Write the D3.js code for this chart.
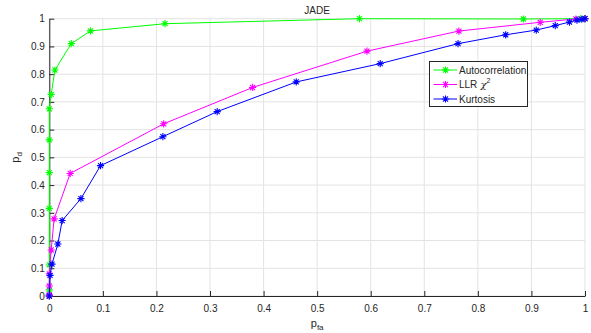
<!DOCTYPE html>
<html>
<head>
<meta charset="utf-8">
<script src="https://cdn.jsdelivr.net/npm/d3@7"></script>
<style>
  body { margin: 0; background: #fff; }
  text { font-family: "Liberation Sans", Arial, sans-serif; fill: #262626; }
</style>
</head>
<body>
<div id="chart"></div>
<script>
// ROC curves, JADE
const autoX = [0, 0, 0, 0, 0, 0, 0, 0.0035, 0.0105, 0.041, 0.077, 0.216, 0.579, 0.885, 0.992, 1];
const autoY = [0, 0.022, 0.112, 0.316, 0.445, 0.563, 0.675, 0.727, 0.815, 0.91, 0.956, 0.982, 1, 0.999, 1, 1];

const llrX = [0, 0, 0, 0, 0.0035, 0.009, 0.039, 0.2136, 0.3795, 0.593, 0.7646, 0.9164, 0.983, 1];
const llrY = [0, 0.004, 0.036, 0.08, 0.166, 0.278, 0.442, 0.621, 0.752, 0.883, 0.9555, 0.987, 0.999, 1];

const kurtX = [0, 0.0014, 0.005, 0.016, 0.024, 0.059, 0.0956, 0.212, 0.3134, 0.461, 0.6177, 0.763, 0.852, 0.909, 0.9445, 0.971, 0.985, 0.994, 1];
const kurtY = [0, 0.0745, 0.115, 0.1875, 0.272, 0.351, 0.47, 0.5745, 0.665, 0.772, 0.838, 0.91, 0.942, 0.959, 0.975, 0.988, 0.995, 0.998, 1];

const ticks = [0, 0.1, 0.2, 0.3, 0.4, 0.5, 0.6, 0.7, 0.8, 0.9, 1];

const series = [
  {name: 'Autocorrelation', color: '#00ff00', xs: autoX, ys: autoY},
  {name: 'LLR', color: '#ff00ff', xs: llrX, ys: llrY},
  {name: 'Kurtosis', color: '#0000ff', xs: kurtX, ys: kurtY}
];

const width = 591, height = 333;
const margin = {top: 18.7, right: 6, bottom: 37, left: 49.3};
const w = width - margin.left - margin.right;
const h = height - margin.top - margin.bottom;

const svg = d3.select('#chart').append('svg')
  .attr('width', width)
  .attr('height', height);

const g = svg.append('g')
  .attr('transform', 'translate(' + margin.left + ',' + margin.top + ')');

const x = d3.scaleLinear().domain([0, 1]).range([0, w]);
const y = d3.scaleLinear().domain([0, 1]).range([h, 0]);

// grid
g.append('g').selectAll('line').data(ticks).enter().append('line')
  .attr('x1', d => x(d)).attr('x2', d => x(d))
  .attr('y1', 0).attr('y2', h)
  .attr('stroke', '#e3e3e3').attr('stroke-width', 1);
g.append('g').selectAll('line').data(ticks).enter().append('line')
  .attr('y1', d => y(d)).attr('y2', d => y(d))
  .attr('x1', 0).attr('x2', w)
  .attr('stroke', '#e3e3e3').attr('stroke-width', 1);

// axes
const xAxis = g.append('g')
  .attr('transform', 'translate(0,' + h + ')')
  .call(d3.axisBottom(x).tickValues(ticks).tickFormat(d3.format('')).tickSizeInner(-5).tickSizeOuter(0).tickPadding(9));
const yAxis = g.append('g')
  .call(d3.axisLeft(y).tickValues(ticks).tickFormat(d3.format('')).tickSizeInner(-5).tickSizeOuter(0).tickPadding(4.5));
[xAxis, yAxis].forEach(a => {
  a.selectAll('path').attr('stroke', '#262626');
  a.selectAll('line').attr('stroke', '#262626');
  a.selectAll('text').style('font-size', '10px').attr('fill', '#262626').style('font-family', '"Liberation Sans", Arial, sans-serif');
});

// asterisk marker
function star(sel, r, color) {
  const p = 'M' + (-r) + ',0H' + r + 'M0,' + (-r) + 'V' + r +
    'M' + (-r * 0.7) + ',' + (-r * 0.7) + 'L' + (r * 0.7) + ',' + (r * 0.7) +
    'M' + (-r * 0.7) + ',' + (r * 0.7) + 'L' + (r * 0.7) + ',' + (-r * 0.7);
  sel.append('path').attr('d', p).attr('stroke', color).attr('stroke-width', 1.1).attr('fill', 'none');
}

const line = d3.line().x(d => x(d[0])).y(d => y(d[1]));

series.forEach(s => {
  const pts = s.xs.map((v, i) => [v, s.ys[i]]);
  g.append('path').datum(pts)
    .attr('d', line)
    .attr('fill', 'none')
    .attr('stroke', s.color)
    .attr('stroke-width', 1);
  pts.forEach(p => {
    const m = g.append('g').attr('transform', 'translate(' + x(p[0]) + ',' + y(p[1]) + ')');
    star(m, 3.6, s.color);
  });
});

// title
svg.append('text')
  .attr('x', margin.left + w / 2).attr('y', 14)
  .attr('text-anchor', 'middle')
  .style('font-size', '10px')
  .text('JADE');

// x label
const xl = svg.append('text')
  .attr('x', margin.left + w / 2).attr('y', 327)
  .attr('text-anchor', 'middle')
  .style('font-size', '11px');
xl.append('tspan').text('p');
xl.append('tspan').attr('dy', 3).style('font-size', '8px').text('fa');

// y label
const yl = svg.append('text')
  .attr('transform', 'translate(19,' + (margin.top + h / 2) + ') rotate(-90)')
  .attr('text-anchor', 'middle')
  .style('font-size', '11px');
yl.append('tspan').text('p');
yl.append('tspan').attr('dy', 3).style('font-size', '8px').text('d');

// legend
const lg = svg.append('g').attr('transform', 'translate(429.5,61.5)');
lg.append('rect')
  .attr('width', 98).attr('height', 45)
  .attr('fill', '#fff').attr('stroke', '#262626').attr('stroke-width', 1);
series.forEach((s, i) => {
  const ry = 8.5 + i * 14.5;
  lg.append('line')
    .attr('x1', 4).attr('x2', 27.5).attr('y1', ry).attr('y2', ry)
    .attr('stroke', s.color).attr('stroke-width', 1);
  star(lg.append('g').attr('transform', 'translate(16,' + ry + ')'), 3.6, s.color);
  const t = lg.append('text')
    .attr('x', 29.5).attr('y', ry + 3.5)
    .style('font-size', '10px');
  t.append('tspan').text(s.name);
  if (s.name === 'LLR') {
    t.append('tspan').style('font-family', '"DejaVu Serif", serif').style('font-style', 'italic').text(' \u03c7');
    t.append('tspan').attr('dy', -5).style('font-size', '7px').text('2');
  }
});
</script>
</body>
</html>
